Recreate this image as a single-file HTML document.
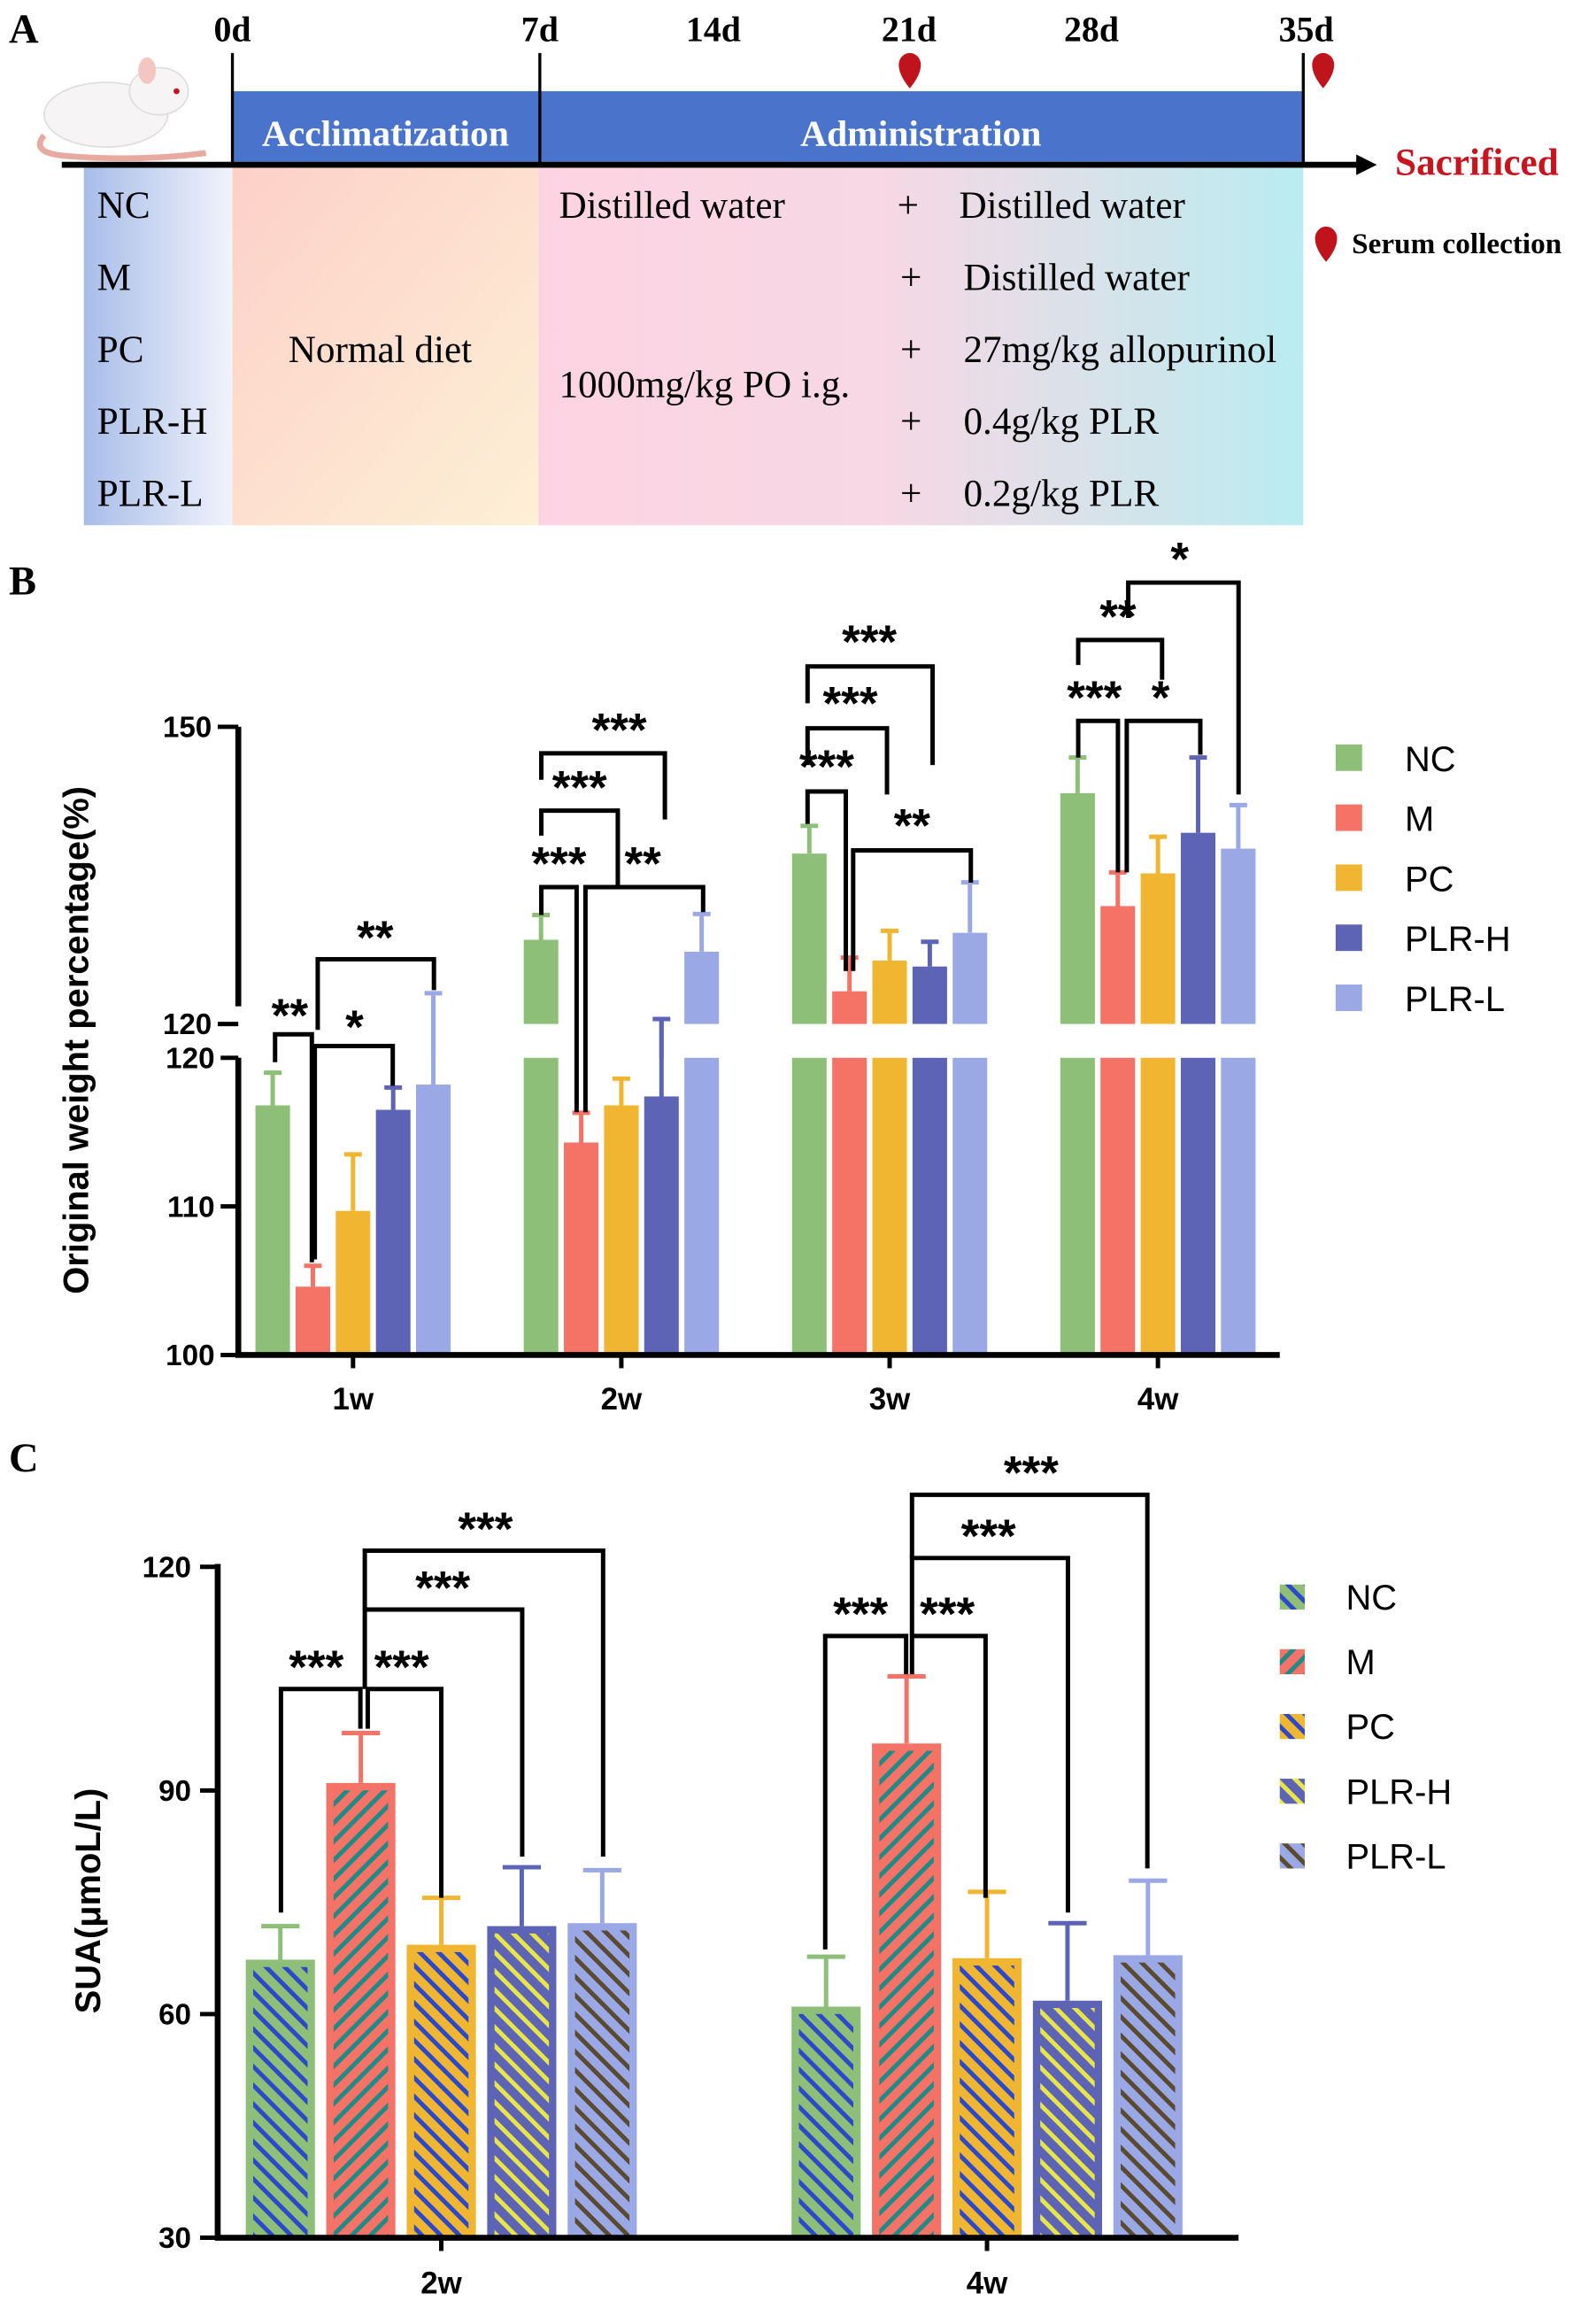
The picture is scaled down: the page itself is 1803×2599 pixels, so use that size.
<!DOCTYPE html>
<html><head><meta charset="utf-8"><style>
html,body{margin:0;padding:0;background:#fff;}
svg{display:block;}
.serif{font-family:"Liberation Serif",serif;}
.sans{font-family:"Liberation Sans",sans-serif;}
</style></head><body>
<svg id="fig" width="1803" height="2599" viewBox="0 0 1085 1564" xmlns="http://www.w3.org/2000/svg">
<defs>
<linearGradient id="gA1" x1="0" x2="1"><stop offset="0" stop-color="#a7bde8"/><stop offset="1" stop-color="#f1f3fb"/></linearGradient>
<linearGradient id="gA2" x1="0" y1="0" x2="1" y2="1"><stop offset="0" stop-color="#fdd0c8"/><stop offset="1" stop-color="#fdf0d6"/></linearGradient>
<linearGradient id="gA3" x1="0" x2="1"><stop offset="0" stop-color="#fdd3e2"/><stop offset="0.45" stop-color="#f7d8e4"/><stop offset="1" stop-color="#b9ecf0"/></linearGradient>
<pattern id="hNC" patternUnits="userSpaceOnUse" width="9" height="9" patternTransform="rotate(-45)"><rect width="9" height="9" fill="#8dbf78"/><rect width="3" height="9" fill="#2b49c8"/></pattern>
<pattern id="hM" patternUnits="userSpaceOnUse" width="9" height="9" patternTransform="rotate(45)"><rect width="9" height="9" fill="#f47266"/><rect width="3" height="9" fill="#1f8a86"/></pattern>
<pattern id="hPC" patternUnits="userSpaceOnUse" width="9" height="9" patternTransform="rotate(-45)"><rect width="9" height="9" fill="#f0b631"/><rect width="3" height="9" fill="#2b49c8"/></pattern>
<pattern id="hPH" patternUnits="userSpaceOnUse" width="9" height="9" patternTransform="rotate(-45)"><rect width="9" height="9" fill="#5e64b5"/><rect width="3" height="9" fill="#e6e64a"/></pattern>
<pattern id="hPL" patternUnits="userSpaceOnUse" width="9" height="9" patternTransform="rotate(-45)"><rect width="9" height="9" fill="#9aa8e6"/><rect width="3" height="9" fill="#5a4a30"/></pattern>
</defs>

<!-- Panel A -->
<g class="serif" font-weight="bold">
<text x="6" y="29" font-size="28">A</text>
<rect x="57" y="113" width="101" height="244" fill="url(#gA1)"/>
<rect x="158" y="113" width="208" height="244" fill="url(#gA2)"/>
<rect x="366" y="113" width="520" height="244" fill="url(#gA3)"/>
<rect x="158" y="62" width="728" height="48" fill="#4a74cc"/>
<line x1="158" y1="36" x2="158" y2="112" stroke="#000" stroke-width="2"/>
<line x1="367" y1="36" x2="367" y2="112" stroke="#000" stroke-width="2"/>
<line x1="886" y1="36" x2="886" y2="112" stroke="#000" stroke-width="2"/>
<line x1="42" y1="112" x2="925" y2="112" stroke="#000" stroke-width="4"/>
<polygon points="922,105 936,112 922,119" fill="#000"/>
<text x="262" y="99" font-size="25" fill="#fff" text-anchor="middle">Acclimatization</text>
<text x="626" y="99" font-size="25" fill="#fff" text-anchor="middle">Administration</text>
<g font-size="24" text-anchor="middle">
<text x="158" y="28">0d</text><text x="367" y="28">7d</text><text x="485" y="28">14d</text><text x="618" y="28">21d</text><text x="742" y="28">28d</text><text x="888" y="28">35d</text>
</g>
<text x="1004" y="119" font-size="26" fill="#c8141e" text-anchor="middle">Sacrificed</text>
<path d="M611,44 a7.5,8 0 1 1 15,0 q0,7 -7.5,16 q-7.5,-9 -7.5,-16z" fill="#c0141c"/>
<path d="M892,44 a7.5,8 0 1 1 15,0 q0,7 -7.5,16 q-7.5,-9 -7.5,-16z" fill="#c0141c"/>
<path d="M894,162 a7.5,8 0 1 1 15,0 q0,7 -7.5,16 q-7.5,-9 -7.5,-16z" fill="#c0141c"/>
<text x="919" y="172" font-size="20">Serum collection</text>
<g font-weight="normal" font-size="26">
<text x="66" y="148">NC</text><text x="66" y="197">M</text><text x="66" y="246">PC</text><text x="66" y="295">PLR-H</text><text x="66" y="344">PLR-L</text>
<text x="196" y="246">Normal diet</text>
<text x="380" y="148">Distilled water</text>
<text x="380" y="270">1000mg/kg PO i.g.</text>
<text x="610" y="148">+</text><text x="612" y="197">+</text><text x="612" y="246">+</text><text x="612" y="295">+</text><text x="612" y="344">+</text>
<text x="652" y="148">Distilled water</text><text x="655" y="197">Distilled water</text><text x="655" y="246">27mg/kg allopurinol</text><text x="655" y="295">0.4g/kg PLR</text><text x="655" y="344">0.2g/kg PLR</text>
</g>
<g>
<path d="M30,92 q-10,12 15,14 q50,4 95,-2" fill="none" stroke="#e8aaa0" stroke-width="4"/>
<ellipse cx="72" cy="78" rx="42" ry="22" fill="#f6f4f4" stroke="#ddd"/>
<ellipse cx="108" cy="62" rx="20" ry="16" fill="#f6f4f4" stroke="#ddd"/>
<ellipse cx="100" cy="48" rx="6" ry="9" fill="#f3c6c0"/>
<circle cx="120" cy="62" r="2" fill="#c0141c"/>
</g>
</g>

<!-- Panel B -->
<g id="panelB" class="sans" font-weight="bold">
<text x="6" y="404" font-size="28" class="serif">B</text>
<text transform="translate(60,707) rotate(-90)" font-size="24" text-anchor="middle">Original weight percentage(%)</text>
</g>

<!-- Panel C -->
<g id="panelC" class="sans" font-weight="bold">
<text x="6" y="1000" font-size="28" class="serif">C</text>
<text transform="translate(68,1292) rotate(-90)" font-size="24" text-anchor="middle">SUA(μmoL/L)</text>
</g>
</svg>
<script>
const groups = ["NC","M","PC","PLR-H","PLR-L"];
const colors = ["#8dbf78","#f47266","#f0b631","#5e64b5","#9aa8e6"];
const weightWeeks = ["1w","2w","3w","4w"];
const weightNC   = [116.8,128.5,137.2,143.3];
const weightM    = [104.6,114.3,123.3,131.9];
const weightPC   = [109.7,116.8,126.4,135.2];
const weightPLRH = [116.5,117.4,125.8,139.3];
const weightPLRL = [118.2,127.3,129.2,137.7];
const weightErrNC   = [2.2,2.5,2.8,3.6];
const weightErrM    = [1.4,2.0,3.4,3.4];
const weightErrPC   = [3.8,1.8,3.0,3.7];
const weightErrPLRH = [1.5,3.1,2.5,7.6];
const weightErrPLRL = [4.9,3.8,5.1,4.4];
const weightLowTicks = [100,110,120];
const weightHighTicks = [120,150];
const suaWeeks = ["2w","4w"];
const suaNC   = [67.3,61.0];
const suaM    = [91.0,96.3];
const suaPC   = [69.3,67.5];
const suaPLRH = [71.8,61.8];
const suaPLRL = [72.2,67.9];
const suaErrNC   = [4.5,6.7];
const suaErrM    = [6.7,9.0];
const suaErrPC   = [6.3,8.9];
const suaErrPLRH = [7.9,10.4];
const suaErrPLRL = [7.1,10.0];
const suaTicks = [30,60,90,120];

const NS="http://www.w3.org/2000/svg";
function mk(parent,tag,attrs){const e=document.createElementNS(NS,tag);for(const k in attrs)e.setAttribute(k,attrs[k]);parent.appendChild(e);return e;}

// ---- Panel B ----
const B=document.getElementById('panelB');
const yLow=v=>921-(v-100)*10.1;
const yHigh=v=>696-(v-120)*6.733;
const bGroupX=i=>240+i*182.4;
const bBarX=(i,j)=>bGroupX(i)+(j-2)*27.3;
const bVals=[weightNC,weightM,weightPC,weightPLRH,weightPLRL];
const bErrs=[weightErrNC,weightErrM,weightErrPC,weightErrPLRH,weightErrPLRL];
const bw=23.5;
for(let i=0;i<weightWeeks.length;i++){
  for(let j=0;j<5;j++){
    const v=bVals[j][i], e=bErrs[j][i], cx=bBarX(i,j);
    const lowTop=yLow(Math.min(v,120));
    const r=mk(B,'rect',{x:cx-bw/2,y:lowTop,width:bw,height:921-lowTop,fill:colors[j]});
    
    
    if(v>120){
      const ht=yHigh(v);
      const r2=mk(B,'rect',{x:cx-bw/2,y:ht,width:bw,height:696-ht,fill:colors[j]});
      
      
    }
    const top=v+e;
    const ey=top>120?yHigh(top):yLow(top);
    const vy=v>120?yHigh(v):yLow(v);
    const el=mk(B,'path',{d:`M${cx},${vy}V${ey}M${cx-6},${ey}H${cx+6}`,stroke:colors[j],'stroke-width':3,fill:'none'});
    
    
    if(v<=120&&top>120){
      const ext=mk(B,'line',{x1:cx,y1:719,x2:cx,y2:ey,stroke:colors[j],'stroke-width':3});
      
      
    }
  }
  const t=mk(B,'text',{x:bGroupX(i),y:958,'font-size':21,'text-anchor':'middle'});
  t.textContent=weightWeeks[i];
  
  
  const tk=mk(B,'line',{x1:bGroupX(i),y1:921,x2:bGroupX(i),y2:930,stroke:'#000','stroke-width':3});
  
  
}
const bax=mk(B,'path',{d:'M162,719V921H870M162,494V684',stroke:'#000','stroke-width':4,fill:'none'});


weightLowTicks.forEach(v=>{
  const l=mk(B,'line',{x1:150,y1:yLow(v),x2:162,y2:yLow(v),stroke:'#000','stroke-width':3});
  
  
  const t=mk(B,'text',{x:146,y:yLow(v)+7,'font-size':20,'text-anchor':'end'});t.textContent=v;
  
  
});
weightHighTicks.forEach(v=>{
  const l=mk(B,'line',{x1:148,y1:yHigh(v),x2:162,y2:yHigh(v),stroke:'#000','stroke-width':3});
  
  
  const t=mk(B,'text',{x:144,y:yHigh(v)+7,'font-size':20,'text-anchor':'end'});t.textContent=v;
  
  
});
const sigB=[
 [187,722,212,858,703,"**",197,701],
 [214,856,267,738,711,"*",241,709],
 [216,700,295,673,652,"**",255,648],
 [368,622,392,756,603,"***",380,598],
 [398,756,478,620,603,"**",437,598],
 [368,568,420,603,551,"***",394,546],
 [368,530,452,557,512,"***",421,507],
 [549,560,575,660,538,"***",562,532],
 [580,660,660,600,578,"**",620,572],
 [549,520,603,540,495,"***",578,489],
 [549,478,634,520,453,"***",591,447],
 [733,515,760,593,490,"***",744,485],
 [766,593,816,513,490,"*",789,485],
 [733,452,790,462,435,"**",760,430],
 [767,420,842,540,396,"*",802,391]
];
sigB.forEach(s=>{
  const p=mk(B,'path',{d:`M${s[0]},${s[1]}V${s[4]}H${s[2]}V${s[3]}`,stroke:'#000','stroke-width':3,fill:'none'});
  
  
  const t=mk(B,'text',{x:s[6],y:s[7],'font-size':32,'text-anchor':'middle'});t.textContent=s[5];
  
  
});
groups.forEach((g,j)=>{
  const r=mk(B,'rect',{x:908,y:506+j*40.8,width:18,height:18,fill:colors[j]});
  
  
  const t=mk(B,'text',{x:955,y:524+j*40.8,'font-size':24,'font-weight':'normal'});t.textContent=g;
  
  
});

// ---- Panel C ----
const C=document.getElementById('panelC');
const pats=['hNC','hM','hPC','hPH','hPL'];
const yC=v=>1521-(v-30)*5.067;
const cGroupX=i=>300+i*371;
const cBarX=(i,j)=>cGroupX(i)+(j-2)*54.7;
const cVals=[suaNC,suaM,suaPC,suaPLRH,suaPLRL];
const cErrs=[suaErrNC,suaErrM,suaErrPC,suaErrPLRH,suaErrPLRL];
const cw=47;
for(let i=0;i<suaWeeks.length;i++){
  for(let j=0;j<5;j++){
    const v=cVals[j][i],e=cErrs[j][i],cx=cBarX(i,j),ty=yC(v);
    const r=mk(C,'rect',{x:cx-cw/2,y:ty,width:cw,height:1521-ty,fill:colors[j]});
    
    
    const h=mk(C,'rect',{x:cx-cw/2+5,y:ty+5,width:cw-10,height:Math.max(0,1521-ty-5),fill:'url(#'+pats[j]+')'});
    
    
    const ey=yC(v+e);
    const el=mk(C,'path',{d:`M${cx},${ty}V${ey}M${cx-13},${ey}H${cx+13}`,stroke:colors[j],'stroke-width':3,fill:'none'});
    
    
  }
  const t=mk(C,'text',{x:cGroupX(i),y:1559,'font-size':21,'text-anchor':'middle'});t.textContent=suaWeeks[i];
  
  
  const tk=mk(C,'line',{x1:cGroupX(i),y1:1521,x2:cGroupX(i),y2:1530,stroke:'#000','stroke-width':3});
  
  
}
const cax=mk(C,'path',{d:'M148,1063V1521H842',stroke:'#000','stroke-width':4,fill:'none'});


suaTicks.forEach(v=>{
  const l=mk(C,'line',{x1:136,y1:yC(v),x2:148,y2:yC(v),stroke:'#000','stroke-width':3});
  
  
  const t=mk(C,'text',{x:130,y:yC(v)+7,'font-size':20,'text-anchor':'end'});t.textContent=v;
  
  
});
const sigC=[
 [191,1300,245,1175,1148,"***",215,1144],
 [250,1175,300,1290,1148,"***",273,1144],
 [248,1148,355,1262,1094,"***",301,1090],
 [248,1094,410,1262,1054,"***",330,1050],
 [561,1325,616,1138,1112,"***",585,1108],
 [620,1138,670,1290,1112,"***",644,1108],
 [620,1112,726,1300,1059,"***",672,1055],
 [620,1059,780,1270,1016,"***",701,1012]
];
sigC.forEach(s=>{
  const p=mk(C,'path',{d:`M${s[0]},${s[1]}V${s[4]}H${s[2]}V${s[3]}`,stroke:'#000','stroke-width':3,fill:'none'});
  
  
  const t=mk(C,'text',{x:s[6],y:s[7],'font-size':32,'text-anchor':'middle'});t.textContent=s[5];
  
  
});
groups.forEach((g,j)=>{
  const r=mk(C,'rect',{x:870,y:1077+j*44,width:17,height:17,fill:'url(#'+pats[j]+')'});
  
  
  const t=mk(C,'text',{x:915,y:1094+j*44,'font-size':24,'font-weight':'normal'});t.textContent=g;
  
  
});
</script>
</body></html>
